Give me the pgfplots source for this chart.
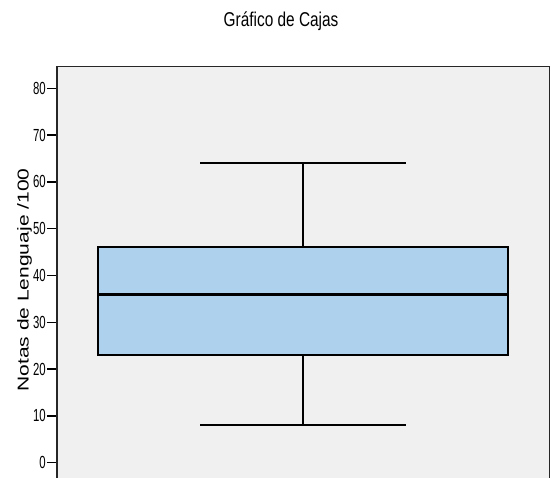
\documentclass[border=0pt]{standalone}
\usepackage{pgfplots}
\pgfplotsset{compat=1.18}
\usepackage{fontspec}
\setmainfont{Liberation Sans}
\newfontfamily\narrowfont{Liberation Sans}[FakeStretch=0.65]
\newfontfamily\titlefont{Liberation Sans}[FakeStretch=0.77]
\definecolor{boxblue}{RGB}{174,209,238}
\definecolor{bggray}{RGB}{240,240,240}
\begin{document}
\begin{tikzpicture}
\begin{axis}[
  scale only axis,
  width=492.5pt, height=411.5pt,
  xmin=0.5205, xmax=1.4805,
  ymin=-3.27, ymax=84.66,
  axis x line*=top,
  axis y line*=box,
  xtick=\empty,
  ytick={0,10,...,80},
  ytick pos=left,
  tick align=outside,
  major tick length=10pt,
  every tick/.style={black, line width=1.5pt},
  axis line style={draw=black!85, line width=1.6pt},
  axis background/.style={fill=bggray},
  /pgf/number format/assume math mode=true,
  yticklabel style={font=\narrowfont\fontsize{17.5}{18}\selectfont, inner xsep=1pt},
  ylabel={\scalebox{1}[0.75]{\fontsize{21}{21}\selectfont Notas de Lenguaje /100}},
  ylabel style={at={(axis description cs:0,0.481)}, anchor=center, yshift=32.5pt},
  title={\titlefont\fontsize{20}{20}\selectfont Gráfico de Cajas},
  every axis title shift=0pt,
  title style={at={(axis description cs:0.455,1)}, anchor=base, yshift=39.5pt},
]
% box (Q1 = 23, Q3 = 46)
\addplot[fill=boxblue, draw=black, line width=2pt] coordinates {(0.6,23) (1.4,23) (1.4,46) (0.6,46)} -- cycle;
% median
\addplot[black, line width=3pt] coordinates {(0.6,36) (1.4,36)};
% whiskers
\addplot[black, line width=2pt] coordinates {(1,46) (1,64)};
\addplot[black, line width=2pt] coordinates {(1,23) (1,8)};
\addplot[black, line width=2pt] coordinates {(0.8,64) (1.2,64)};
\addplot[black, line width=2pt] coordinates {(0.8,8) (1.2,8)};
\coordinate (sw) at (axis description cs:0,0);
\end{axis}
\pgfresetboundingbox
\path[use as bounding box] (sw) ++(-57pt,0pt) rectangle ++(551pt,478pt);
\end{tikzpicture}
\end{document}
